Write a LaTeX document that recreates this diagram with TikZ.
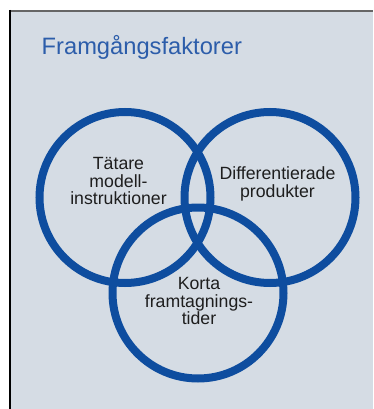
\documentclass[tikz,border=0pt]{standalone}
\usepackage{fontspec}
\setmainfont{Liberation Sans}
\definecolor{panelbg}{HTML}{D5DCE4}
\definecolor{ringblue}{HTML}{0E4D9F}
\definecolor{titleblue}{HTML}{2C5DAA}
\definecolor{labelgray}{HTML}{1E1E1E}
\begin{document}
\begin{tikzpicture}[x=1pt,y=-1pt,
  ring/.style={draw=ringblue, line width=8pt, circle, minimum size=171pt, inner sep=0pt},
  label/.style={text=labelgray, align=center, inner sep=0pt,
    font=\fontsize{17.7}{17.7}\selectfont},
  heading/.style={text=titleblue, anchor=base west, inner sep=0pt,
    font=\fontsize{23.7}{28}\selectfont}]
  % canvas and panel
  \useasboundingbox (0,0) rectangle (373,409);
  \fill[white] (0,0) rectangle (373,409);
  \fill[panelbg] (10,11) rectangle (373,409);
  \draw[line width=2pt, draw=black!60] (10,11) -- (373,11);
  \draw[line width=1.5pt, draw=black] (10,10) -- (10,409);
  % heading
  \node[heading] (title) at (41.5,55) {Framgångsfaktorer};
  % three overlapping rings
  \node[ring] (left)   at (125,197.5) {};
  \node[ring] (right)  at (270,197.5) {};
  \node[ring] (bottom) at (198,293) {};
  % ring captions
  \node[label] (ltext) at (118.5,181) {Tätare\\modell-\\instruktioner};
  \node[label] (rtext) at (277.5,184) {Differentierade\\produkter};
  \node[label] (btext) at (199,301) {Korta\\framtagnings-\\tider};
\end{tikzpicture}
\end{document}
